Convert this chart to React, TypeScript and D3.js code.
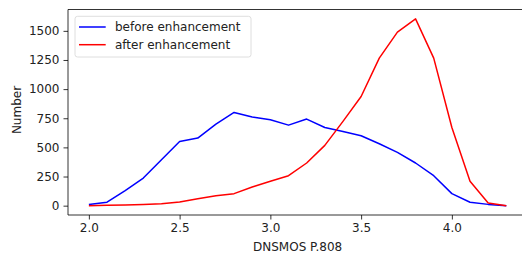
import React from 'react';
import { scaleLinear, select, axisLeft, axisBottom, line, max } from 'd3';

const scores = [2.0, 2.1, 2.2, 2.3, 2.4, 2.5, 2.6, 2.7, 2.8, 2.9, 3.0, 3.1, 3.2, 3.3, 3.4, 3.5, 3.6, 3.7, 3.8, 3.9, 4.0, 4.1, 4.2, 4.3];
const beforeCounts = [10, 30, 130, 237, 394, 551, 580, 700, 800, 760, 737, 691, 743, 671, 637, 600, 531, 457, 366, 257, 103, 29, 11, 0];
const afterCounts = [0, 3, 6, 11, 17, 31, 60, 86, 103, 160, 209, 257, 366, 517, 723, 937, 1266, 1489, 1603, 1266, 671, 209, 23, 0];
const seriesNames = ['before enhancement', 'after enhancement'];
const xTicks = [2.0, 2.5, 3.0, 3.5, 4.0];
const yTicks = [0, 250, 500, 750, 1000, 1250, 1500];

const dims = {
    width: 522,
    height: 253,
    left: 68,
    top: 9.5,
    bottom: 215,
};
const font = 'DejaVu Sans, sans-serif';
const fontSize = 12;
const colors = ['#0000ff', '#ff0000'];

const App: React.FC = () => {
    const ref = React.useRef<SVGSVGElement>(null);

    React.useEffect(() => {
        const svg = select(ref.current);
        svg.selectAll('*').remove();

        // matplotlib style 5% margins
        const xPad = (4.3 - 2.0) * 0.05;
        const xScale = scaleLinear()
            .domain([2.0 - xPad, 4.3 + xPad])
            .range([dims.left, dims.left + (2.3 + 2 * xPad) * 181.5]);

        const ymax = max([...beforeCounts, ...afterCounts]) as number;
        const yPad = ymax * 0.05;
        const yScale = scaleLinear()
            .domain([-yPad, ymax + yPad])
            .range([dims.bottom, dims.top]);

        const xRight = xScale.range()[1];

        const xAxis = svg.append('g')
            .attr('transform', `translate(0, ${dims.bottom})`)
            .call(axisBottom(xScale).tickValues(xTicks).tickFormat(d => (d as number).toFixed(1)).tickSizeOuter(0).tickSize(4.5).tickPadding(3.5));
        const yAxis = svg.append('g')
            .attr('transform', `translate(${dims.left}, 0)`)
            .call(axisLeft(yScale).tickValues(yTicks).tickFormat(d => String(d)).tickSizeOuter(0).tickSize(4.5).tickPadding(4));

        [xAxis, yAxis].forEach(g => {
            g.select('.domain').remove();
            g.selectAll('line').attr('stroke', '#000').attr('stroke-width', 0.8);
            g.selectAll('text').attr('font-family', font).attr('font-size', fontSize).attr('fill', '#222');
        });

        // spines
        svg.append('path')
            .attr('d', `M${xRight},${dims.top}H${dims.left}V${dims.bottom}H${xRight}`)
            .attr('fill', 'none')
            .attr('stroke', '#000')
            .attr('stroke-width', 0.8);

        const gen = line<number>()
            .x((_, i) => xScale(scores[i]))
            .y(d => yScale(d));

        [beforeCounts, afterCounts].forEach((s, i) => {
            svg.append('path')
                .attr('d', gen(s))
                .attr('fill', 'none')
                .attr('stroke', colors[i])
                .attr('stroke-width', 1.5)
                .attr('stroke-linejoin', 'round');
        });

        // legend
        const legend = svg.append('g');
        legend.append('rect')
            .attr('x', 75).attr('y', 16.3)
            .attr('width', 176).attr('height', 40.7)
            .attr('rx', 2.5)
            .attr('fill', '#fff').attr('fill-opacity', 0.8)
            .attr('stroke', '#d6d6d6').attr('stroke-width', 0.8);
        seriesNames.forEach((name, i) => {
            const y = 27 + i * 17.7;
            legend.append('line')
                .attr('x1', 79).attr('x2', 105.7)
                .attr('y1', y).attr('y2', y)
                .attr('stroke', colors[i]).attr('stroke-width', 1.5);
            legend.append('text')
                .attr('x', 115).attr('y', y)
                .attr('dy', '0.35em')
                .attr('font-family', font).attr('font-size', fontSize)
                .attr('fill', '#222')
                .text(name);
        });

        // axis labels
        svg.append('text')
            .attr('x', (dims.left + xRight) / 2).attr('y', 251)
            .attr('text-anchor', 'middle')
            .attr('font-family', font).attr('font-size', fontSize)
            .attr('fill', '#222')
            .text('DNSMOS P.808');
        svg.append('text')
            .attr('transform', `translate(20.5, 110) rotate(-90)`)
            .attr('text-anchor', 'middle')
            .attr('font-family', font).attr('font-size', fontSize)
            .attr('fill', '#222')
            .text('Number');
    }, []);

    return (
        <div style={{ position: 'absolute', left: 0, top: 0 }}>
            <svg ref={ref} width={dims.width} height={dims.height} style={{ display: 'block', background: '#fff' }} />
        </div>
    );
};

export default App;
